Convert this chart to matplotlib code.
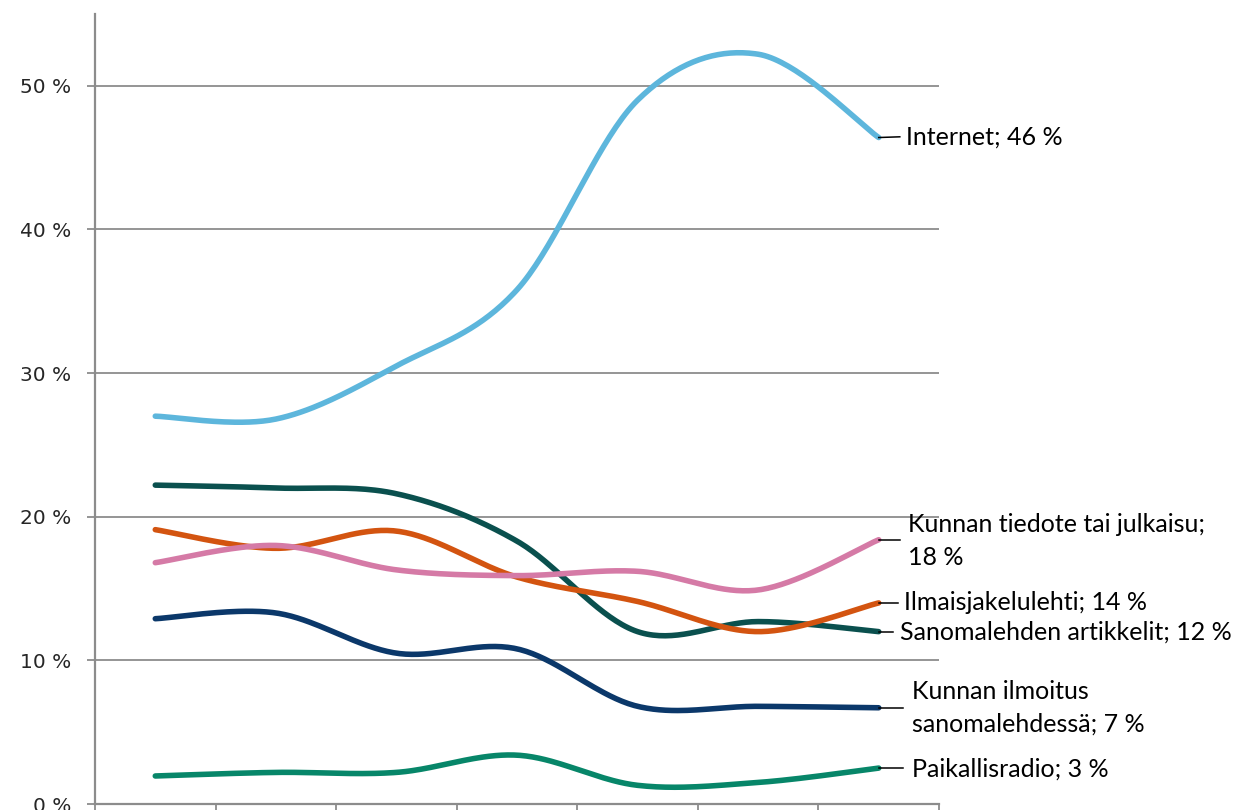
import matplotlib.pyplot as plt
import numpy as np

plt.rcParams['font.family'] = ['Lato', 'DejaVu Sans']

# ---- data (share of respondents, %) ----
categories = np.arange(7)
internet = [27.0, 26.8, 30.5, 35.8, 49.0, 52.2, 46.4]
sanomalehden_artikkelit = [22.2, 22.0, 21.6, 18.3, 12.0, 12.7, 12.0]
ilmaisjakelulehti = [19.1, 17.8, 19.0, 15.8, 14.1, 12.0, 14.0]
kunnan_tiedote = [16.8, 18.0, 16.3, 15.9, 16.2, 14.9, 18.4]
kunnan_ilmoitus = [12.9, 13.3, 10.5, 10.8, 6.8, 6.8, 6.7]
paikallisradio = [1.95, 2.2, 2.2, 3.4, 1.3, 1.5, 2.5]

series_labels = ['Internet; 46 %', 'Sanomalehden artikkelit; 12 %',
                 'Ilmaisjakelulehti; 14 %', 'Kunnan tiedote tai julkaisu;\n18 %',
                 'Kunnan ilmoitus\nsanomalehdessä; 7 %', 'Paikallisradio; 3 %']
series_values = [internet, sanomalehden_artikkelit, ilmaisjakelulehti,
                 kunnan_tiedote, kunnan_ilmoitus, paikallisradio]
colors = ['#5DB6DC', '#0A504E', '#D35410', '#D57AA6', '#0B386A', '#078669']

# label layout: leader end (x), text x, text y  (data coords)
leader_end_x = [6.175, 6.12, 6.16, 6.175, 6.20, 6.20]
text_x = [6.23, 6.18, 6.21, 6.24, 6.28, 6.28]
text_y = [46.45, 11.97, 14.0, 18.3, 6.68, 2.4]


def smooth(x, y, n=40):
    """Excel-like smoothed line: cubic Bezier through points (Catmull-Rom)."""
    x = np.asarray(x, float)
    y = np.asarray(y, float)
    px = np.concatenate([[x[0]], x, [x[-1]]])
    py = np.concatenate([[y[0]], y, [y[-1]]])
    t = np.linspace(0, 1, n)[:, None]
    pts = []
    for i in range(1, len(px) - 2):
        p0 = np.array([px[i - 1], py[i - 1]])
        p1 = np.array([px[i], py[i]])
        p2 = np.array([px[i + 1], py[i + 1]])
        p3 = np.array([px[i + 2], py[i + 2]])
        c1 = p1 + (p2 - p0) / 6
        c2 = p2 - (p3 - p1) / 6
        seg = ((1 - t) ** 3 * p1 + 3 * (1 - t) ** 2 * t * c1
               + 3 * (1 - t) * t ** 2 * c2 + t ** 3 * p2)
        pts.append(seg if i == 1 else seg[1:])
    pts = np.vstack(pts)
    return pts[:, 0], pts[:, 1]


fig = plt.figure(figsize=(12.34, 8.1), dpi=100)
ax = fig.add_axes([95 / 1234, 6 / 810, 844 / 1234, 790 / 810])

grid_color = '#8C8C8C'
ax.set_xlim(-0.5, 6.5)
ax.set_ylim(0, 55)
ax.set_yticks([0, 10, 20, 30, 40, 50])
ax.set_yticklabels(['0 %', '10 %', '20 %', '30 %', '40 %', '50 %'],
                   family='DejaVu Sans', fontsize=14.5, color='#262626')
ax.set_xticks(np.arange(-0.5, 7, 1))
ax.set_xticklabels([])
ax.tick_params(axis='y', length=6, width=1.3, color=grid_color, pad=11)
ax.tick_params(axis='x', length=6, width=1.3, color=grid_color)
ax.grid(axis='y', color=grid_color, linewidth=1.3)
ax.set_axisbelow(True)
for side in ['top', 'right']:
    ax.spines[side].set_visible(False)
for side in ['left', 'bottom']:
    ax.spines[side].set_color(grid_color)
    ax.spines[side].set_linewidth(1.6)

for i in range(len(series_values)):
    sx, sy = smooth(categories, series_values[i])
    ax.plot(sx, sy, color=colors[i], linewidth=4.0,
            solid_capstyle='round', zorder=3)

for i, lab in enumerate(series_labels):
    last = series_values[i][-1]
    ax.plot([categories[-1], leader_end_x[i]], [last, text_y[i] if i == 0 else last],
            color='black', linewidth=1.1, zorder=4, clip_on=False)
    ax.text(text_x[i], text_y[i], lab, fontsize=18, color='black',
            ha='left', va='center', linespacing=1.5, clip_on=False)

fig.savefig('out.png', dpi=100, facecolor='white')
